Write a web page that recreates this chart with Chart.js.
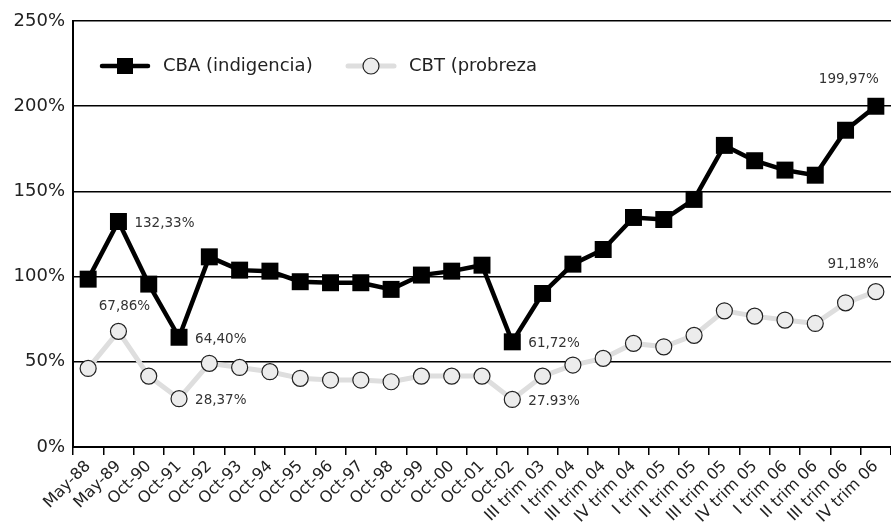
<!DOCTYPE html>
<html>
<head>
<meta charset="utf-8">
<title>CBA / CBT</title>
<script src="https://cdn.jsdelivr.net/npm/chart.js@4.4.0/dist/chart.umd.min.js"></script>
<style>
  html, body { margin: 0; padding: 0; background: #fff; }
  #wrap { width: 891px; height: 523px; }
</style>
</head>
<body>
<div id="wrap"><canvas id="chart" width="891" height="523"></canvas></div>
<script>
const periods = [
  'May-88', 'May-89', 'Oct-90', 'Oct-91', 'Oct-92', 'Oct-93', 'Oct-94', 'Oct-95',
  'Oct-96', 'Oct-97', 'Oct-98', 'Oct-99', 'Oct-00', 'Oct-01', 'Oct-02',
  'III trim 03', 'I trim 04', 'III trim 04', 'IV trim 04', 'I trim 05', 'II trim 05',
  'III trim 05', 'IV trim 05', 'I trim 06', 'II trim 06', 'III trim 06', 'IV trim 06'
];

const cbaValues = [
  98.5, 132.33, 95.6, 64.40, 111.6, 103.8, 103.2, 97.0,
  96.4, 96.4, 92.5, 100.9, 103.2, 106.7, 61.72,
  90.1, 107.3, 115.9, 134.7, 133.5, 145.3,
  177.0, 168.0, 162.5, 159.5, 185.9, 199.97
];

const cbtValues = [
  46.1, 67.86, 41.6, 28.37, 49.1, 46.7, 44.2, 40.3,
  39.3, 39.3, 38.3, 41.6, 41.6, 41.6, 27.93,
  41.6, 48.1, 52.0, 60.8, 58.8, 65.5,
  79.9, 76.8, 74.5, 72.5, 84.6, 91.18
];

const cbaNotes = [
  null, '132,33%', null, '64,40%', null, null, null, null,
  null, null, null, null, null, null, '61,72%',
  null, null, null, null, null, null,
  null, null, null, null, null, '199,97%'
];

const cbtNotes = [
  null, '67,86%', null, '28,37%', null, null, null, null,
  null, null, null, null, null, null, '27.93%',
  null, null, null, null, null, null,
  null, null, null, null, null, '91,18%'
];

const yTicks = [0, 50, 100, 150, 200, 250];
const seriesNames = ['CBA (indigencia)', 'CBT (probreza'];

const FONT = '"DejaVu Sans", Verdana, sans-serif';
const TEXT = '#222';

// value labels next to the marked points
const notesPlugin = {
  id: 'notes',
  afterDatasetsDraw(chart) {
    const ctx = chart.ctx;
    const allNotes = [cbaNotes, cbtNotes];
    ctx.save();
    ctx.font = '13.5px ' + FONT;
    ctx.fillStyle = '#333';
    allNotes.forEach((notes, di) => {
      const meta = chart.getDatasetMeta(di);
      notes.forEach((txt, i) => {
        if (!txt) return;
        const p = meta.data[i];
        if (i === notes.length - 1) {
          ctx.textAlign = 'right';
          ctx.textBaseline = 'middle';
          ctx.fillText(txt, p.x + 3, p.y - 27);
        } else if (di === 1 && i === 1) {
          ctx.textAlign = 'center';
          ctx.textBaseline = 'middle';
          ctx.fillText(txt, p.x + 6, p.y - 25);
        } else {
          ctx.textAlign = 'left';
          ctx.textBaseline = 'middle';
          ctx.fillText(txt, p.x + 16, p.y + 2);
        }
      });
    });
    ctx.restore();
  }
};

// legend inside the plot: line + marker + name
const legendPlugin = {
  id: 'insideLegend',
  afterDraw(chart) {
    const ctx = chart.ctx;
    const a = chart.chartArea;
    const y = a.top + 45;
    const items = [
      { x: a.left + 29, ds: chart.data.datasets[0] },
      { x: a.left + 275, ds: chart.data.datasets[1] }
    ];
    ctx.save();
    items.forEach((it, k) => {
      const ds = it.ds;
      ctx.strokeStyle = ds.borderColor;
      ctx.lineWidth = ds.borderWidth;
      ctx.lineCap = 'round';
      ctx.beginPath();
      ctx.moveTo(it.x, y);
      ctx.lineTo(it.x + 46, y);
      ctx.stroke();
      const cx = it.x + 23;
      if (k === 0) {
        ctx.fillStyle = ds.pointBackgroundColor;
        ctx.fillRect(cx - 8, y - 8, 16, 16);
      } else {
        ctx.beginPath();
        ctx.arc(cx, y, 8, 0, Math.PI * 2);
        ctx.fillStyle = ds.pointBackgroundColor;
        ctx.fill();
        ctx.lineWidth = ds.pointBorderWidth;
        ctx.strokeStyle = ds.pointBorderColor;
        ctx.stroke();
      }
      ctx.font = '18px ' + FONT;
      ctx.fillStyle = TEXT;
      ctx.textAlign = 'left';
      ctx.textBaseline = 'middle';
      ctx.fillText(seriesNames[k], it.x + 61, y);
    });
    ctx.restore();
  }
};

new Chart(document.getElementById('chart'), {
  type: 'line',
  data: {
    labels: periods,
    datasets: [
      {
        label: seriesNames[0],
        data: cbaValues,
        borderColor: '#000',
        borderWidth: 4.5,
        pointStyle: 'rect',
        pointRadius: 12,
        pointBackgroundColor: '#000',
        pointBorderWidth: 0,
        tension: 0
      },
      {
        label: seriesNames[1],
        data: cbtValues,
        borderColor: '#dedede',
        borderWidth: 5,
        pointStyle: 'circle',
        pointRadius: 8,
        pointBackgroundColor: '#ececec',
        pointBorderColor: '#222',
        pointBorderWidth: 1.2,
        tension: 0
      }
    ]
  },
  options: {
    responsive: false,
    animation: false,
    layout: { autoPadding: false, padding: { top: 21, right: -3, bottom: 0, left: 0 } },
    plugins: {
      legend: { display: false },
      tooltip: { enabled: false }
    },
    scales: {
      x: {
        offset: true,
        grid: { display: true, offset: true, drawOnChartArea: false, drawTicks: true, tickLength: 8, color: '#000', lineWidth: 1.5 },
        border: { display: true, color: '#000', width: 2 },
        ticks: { autoSkip: false, minRotation: 45, maxRotation: 45, padding: 2, color: TEXT, font: { family: FONT, size: 16 } },
        afterFit: s => { s.height = 76; s.paddingRight = 0; s.paddingLeft = 0; }
      },
      y: {
        min: 0,
        max: 250,
        afterBuildTicks: s => { s.ticks = yTicks.map(v => ({ value: v })); },
        grid: { color: '#000', lineWidth: 1.5, drawTicks: false },
        border: { display: true, color: '#000', width: 2 },
        ticks: { padding: 8, color: TEXT, font: { family: FONT, size: 18 }, callback: v => v + '%' },
        afterFit: s => { s.width = 73; }
      }
    }
  },
  plugins: [notesPlugin, legendPlugin]
});
</script>
</body>
</html>
